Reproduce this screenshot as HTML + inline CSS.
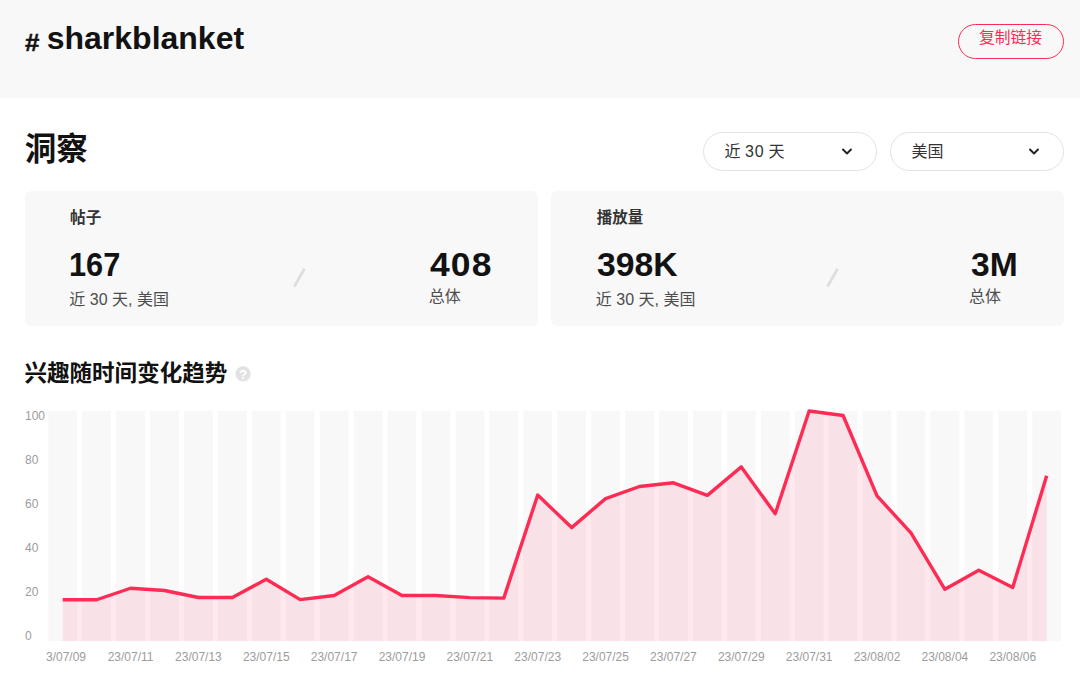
<!DOCTYPE html>
<html lang="zh-CN">
<head>
<meta charset="utf-8">
<title># sharkblanket</title>
<style>
*{box-sizing:border-box;margin:0;padding:0}
html,body{width:1080px;height:683px;overflow:hidden;background:#fff}
body{position:relative;font-family:"Liberation Sans","Noto Sans CJK SC",sans-serif;color:#121212}
.abs{position:absolute}
.hdr{position:absolute;left:0;top:0;width:1080px;height:97.7px;background:#f8f8f8}
.cj{position:absolute;display:block;overflow:visible;line-height:1;white-space:nowrap;font-family:"Liberation Sans","Noto Sans CJK SC",sans-serif;transform:translateY(-0.05em)}
.hs{-webkit-text-stroke:0.45px #121212}
.lt{position:absolute;display:block;line-height:1;white-space:nowrap;transform-origin:0 0}
.btn{position:absolute;left:958px;top:23.5px;width:106px;height:35.5px;border:1px solid #fe2c55;border-radius:18px}
.sel{position:absolute;top:132px;width:173.3px;height:38.5px;border:1px solid #e3e3e3;border-radius:20px;background:#fff}
.sel .tx{position:absolute;left:20.2px;top:10px;font-size:16px;line-height:18px;white-space:nowrap;color:#333}
.dg{font-weight:400;letter-spacing:0.7px;margin-right:-0.2px}
.sel svg.chev{position:absolute;left:136.4px;top:14.55px;width:12px;height:8px}
.card{position:absolute;top:191.3px;height:134.4px;background:#f8f8f8;border-radius:6px}
.num{position:absolute;font-weight:700;font-size:32px;line-height:37px;white-space:nowrap;color:#121212;transform-origin:0 50%}
.sub{position:absolute;font-size:16px;line-height:18px;white-space:nowrap;color:#4d4d4d}
.xl{position:absolute;top:650px;width:80px;text-align:center;font-size:12px;line-height:14px;color:#9c9c9c;white-space:nowrap}
.yl{position:absolute;left:25px;font-size:12px;line-height:14px;color:#9c9c9c;white-space:nowrap}
.xwrap{position:absolute;left:45.5px;top:0;width:1034.5px;height:683px;overflow:hidden}
.xwrap .in{position:absolute;left:-45.5px;top:0;width:1080px;height:683px}
.q{position:absolute;left:235.5px;top:366.1px;width:15.3px;height:15.3px;color:#fff;font-weight:700;font-size:13.4px;line-height:18.5px;text-align:center}
</style>
</head>
<body>
<div class="hdr">
  <span class="lt hs" style="left:25.1px;top:31.25px;font-size:23.8px;font-weight:700;color:#121212;transform:scaleX(1.09)">#</span><span class="lt " style="left:46.7px;top:21.63px;font-size:32px;font-weight:700;color:#121212">sharkblanket</span>
  <div class="btn"></div>
  <span class="cj " style="left:978.93px;top:31.43px;width:63.2px;height:15.8px;font-size:15.8px;color:#fe2c55">复制链接</span>
</div>

<span class="cj " style="left:24.87px;top:135.58px;width:63px;height:31.5px;font-size:31.5px;font-weight:700;color:#121212">洞察</span>

<div class="sel" style="left:703.4px"><span class="tx">近 <b class="dg">30</b> 天</span><svg class="chev" viewBox="0 0 12 8"><path d="M2 1.5 L6 5.5 L10 1.5" fill="none" stroke="#222" stroke-width="1.9" stroke-linecap="round" stroke-linejoin="round"/></svg></div>
<div class="sel" style="left:890.4px"><span class="tx">美国</span><svg class="chev" viewBox="0 0 12 8"><path d="M2 1.5 L6 5.5 L10 1.5" fill="none" stroke="#222" stroke-width="1.9" stroke-linecap="round" stroke-linejoin="round"/></svg></div>

<div class="card" style="left:25px;width:512.5px"></div>
<div class="card" style="left:551px;width:513px"></div>

<span class="cj " style="left:70.11px;top:211.24px;width:31.2px;height:15.6px;font-size:15.6px;font-weight:700;color:#333">帖子</span>
<span class="lt " style="left:68.5px;top:248.7px;font-size:32.6px;font-weight:700;color:#121212;transform:scaleX(0.943)">167</span>
<span class="sub" style="left:69.3px;top:290.5px">近 30 天, 美国</span>
<span class="lt " style="left:430px;top:248.7px;font-size:32.6px;font-weight:700;color:#121212;transform:scaleX(1.09);letter-spacing:1px">408</span>
<span class="cj " style="left:428.77px;top:290.06px;width:32px;height:16px;font-size:16px;color:#4d4d4d">总体</span>

<span class="cj " style="left:596.66px;top:211.31px;width:46.5px;height:15.5px;font-size:15.5px;font-weight:700;color:#333">播放量</span>
<span class="lt " style="left:596.7px;top:248.7px;font-size:32.6px;font-weight:700;color:#121212;transform:scaleX(1.035)">398K</span>
<span class="sub" style="left:595.8px;top:290.5px">近 30 天, 美国</span>
<span class="lt " style="left:970.5px;top:248.7px;font-size:32.6px;font-weight:700;color:#121212;transform:scaleX(1.032)">3M</span>
<span class="cj " style="left:969.12px;top:290.06px;width:32px;height:16px;font-size:16px;color:#4d4d4d">总体</span>

<svg class="abs" style="left:0;top:0" width="1080" height="683" viewBox="0 0 1080 683">
  <line x1="294.3" y1="286.6" x2="304.4" y2="268.8" stroke="#dedede" stroke-width="2.9"/>
  <line x1="827.45" y1="286.6" x2="837.55" y2="268.8" stroke="#dedede" stroke-width="2.9"/>
  <circle cx="243.15" cy="373.8" r="7.65" fill="#e2e2e2"/>
  <g fill="#f8f8f8"><rect x="48.3" y="410.8" width="28.8" height="230.2"/><rect x="82.23" y="410.8" width="28.8" height="230.2"/><rect x="116.16" y="410.8" width="28.8" height="230.2"/><rect x="150.09" y="410.8" width="28.8" height="230.2"/><rect x="184.02" y="410.8" width="28.8" height="230.2"/><rect x="217.95" y="410.8" width="28.8" height="230.2"/><rect x="251.88" y="410.8" width="28.8" height="230.2"/><rect x="285.81" y="410.8" width="28.8" height="230.2"/><rect x="319.74" y="410.8" width="28.8" height="230.2"/><rect x="353.67" y="410.8" width="28.8" height="230.2"/><rect x="387.6" y="410.8" width="28.8" height="230.2"/><rect x="421.53" y="410.8" width="28.8" height="230.2"/><rect x="455.46" y="410.8" width="28.8" height="230.2"/><rect x="489.39" y="410.8" width="28.8" height="230.2"/><rect x="523.32" y="410.8" width="28.8" height="230.2"/><rect x="557.25" y="410.8" width="28.8" height="230.2"/><rect x="591.18" y="410.8" width="28.8" height="230.2"/><rect x="625.11" y="410.8" width="28.8" height="230.2"/><rect x="659.04" y="410.8" width="28.8" height="230.2"/><rect x="692.97" y="410.8" width="28.8" height="230.2"/><rect x="726.9" y="410.8" width="28.8" height="230.2"/><rect x="760.83" y="410.8" width="28.8" height="230.2"/><rect x="794.76" y="410.8" width="28.8" height="230.2"/><rect x="828.69" y="410.8" width="28.8" height="230.2"/><rect x="862.62" y="410.8" width="28.8" height="230.2"/><rect x="896.55" y="410.8" width="28.8" height="230.2"/><rect x="930.48" y="410.8" width="28.8" height="230.2"/><rect x="964.41" y="410.8" width="28.8" height="230.2"/><rect x="998.34" y="410.8" width="28.8" height="230.2"/><rect x="1032.27" y="410.8" width="28.8" height="230.2"/></g>
  <path d="M62.7,641.0 L62.7,599.75 L96.63,599.75 L130.56,588.25 L164.49,590.5 L198.42,597.5 L232.35,597.5 L266.28,579.25 L300.21,599.6 L334.14,595.5 L368.07,576.8 L402,595.5 L435.93,595.5 L469.86,597.6 L503.79,598.1 L537.72,495 L571.65,527.6 L605.58,498.6 L639.51,486.5 L673.44,482.8 L707.37,495.4 L741.3,466.9 L775.23,513.8 L809.16,411 L843.09,415.5 L877.02,495.9 L910.95,532.9 L944.88,589.3 L978.81,570.3 L1012.74,587.5 L1046.67,475.8 L1046.67,641.0 Z" fill="rgba(254,44,85,0.1)"/>
  <polyline points="62.7,599.75 96.63,599.75 130.56,588.25 164.49,590.5 198.42,597.5 232.35,597.5 266.28,579.25 300.21,599.6 334.14,595.5 368.07,576.8 402,595.5 435.93,595.5 469.86,597.6 503.79,598.1 537.72,495 571.65,527.6 605.58,498.6 639.51,486.5 673.44,482.8 707.37,495.4 741.3,466.9 775.23,513.8 809.16,411 843.09,415.5 877.02,495.9 910.95,532.9 944.88,589.3 978.81,570.3 1012.74,587.5 1046.67,475.8" fill="none" stroke="#fe2c55" stroke-width="3.4" stroke-linejoin="round" stroke-linecap="butt"/>
</svg>

<span class="cj " style="left:24.44px;top:364.03px;width:202.95px;height:22.55px;font-size:22.55px;font-weight:700;color:#121212">兴趣随时间变化趋势</span>
<span class="q">?</span>

<span class="yl" style="top:408.6px">100</span><span class="yl" style="top:452.6px">80</span><span class="yl" style="top:496.6px">60</span><span class="yl" style="top:540.6px">40</span><span class="yl" style="top:584.6px">20</span><span class="yl" style="top:628.6px">0</span>
<div class="xwrap"><div class="in"><span class="xl" style="left:22.7px">23/07/09</span><span class="xl" style="left:90.56px">23/07/11</span><span class="xl" style="left:158.42px">23/07/13</span><span class="xl" style="left:226.28px">23/07/15</span><span class="xl" style="left:294.14px">23/07/17</span><span class="xl" style="left:362px">23/07/19</span><span class="xl" style="left:429.86px">23/07/21</span><span class="xl" style="left:497.72px">23/07/23</span><span class="xl" style="left:565.58px">23/07/25</span><span class="xl" style="left:633.44px">23/07/27</span><span class="xl" style="left:701.3px">23/07/29</span><span class="xl" style="left:769.16px">23/07/31</span><span class="xl" style="left:837.02px">23/08/02</span><span class="xl" style="left:904.88px">23/08/04</span><span class="xl" style="left:972.74px">23/08/06</span></div></div>
</body>
</html>
